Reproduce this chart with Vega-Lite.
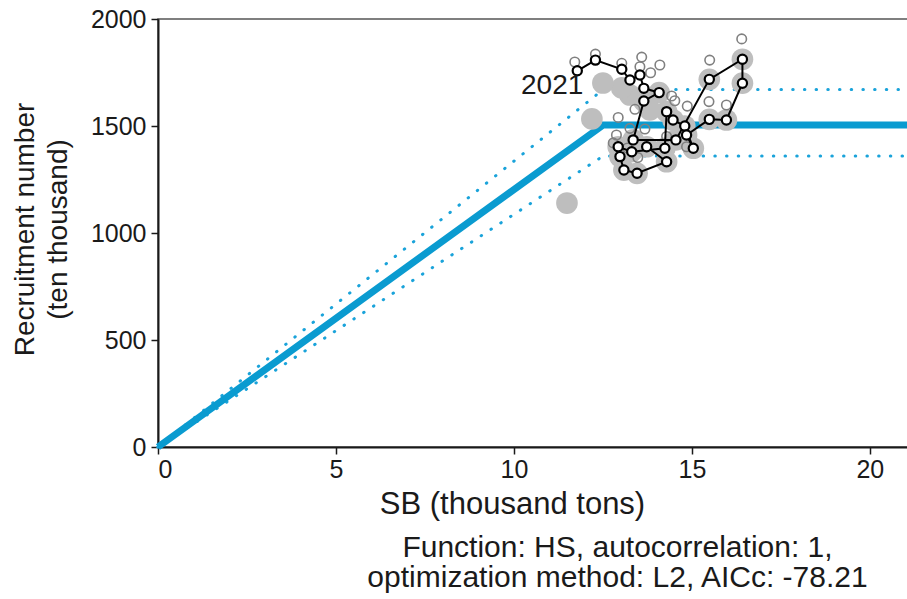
{
  "$schema": "https://vega.github.io/schema/vega-lite/v6.json",
  "autosize": "none",
  "padding": {"left": 158, "top": 19, "right": 0, "bottom": 152},
  "width": 751,
  "height": 428,
  "background": "white",
  "config": {
    "font": "Liberation Sans",
    "view": {"stroke": "#555555", "strokeWidth": 1.5},
    "axis": {
      "grid": false,
      "labelFontSize": 25,
      "labelColor": "#1a1a1a",
      "titleFontSize": 31,
      "titleFontWeight": "normal",
      "titleColor": "#1a1a1a",
      "domainColor": "#1a1a1a",
      "domainWidth": 2,
      "tickColor": "#1a1a1a",
      "tickWidth": 1.5,
      "tickSize": 7
    }
  },
  "title": {
    "text": ["Function: HS, autocorrelation: 1,", "optimization method: L2, AICc: -78.21"],
    "orient": "bottom",
    "anchor": "middle",
    "dx": 84,
    "offset": 14,
    "fontSize": 30,
    "fontWeight": "normal",
    "lineHeight": 30,
    "color": "#1a1a1a"
  },
  "datasets": {
    "hs": [
      {"band": "fit", "SB": 0, "R": 0},
      {"band": "fit", "SB": 12.51, "R": 1505},
      {"band": "fit", "SB": 21.1, "R": 1505},
      {"band": "upper", "SB": 0, "R": 0},
      {"band": "upper", "SB": 12.51, "R": 1671},
      {"band": "upper", "SB": 21.1, "R": 1671},
      {"band": "lower", "SB": 0, "R": 0},
      {"band": "lower", "SB": 12.51, "R": 1360},
      {"band": "lower", "SB": 21.1, "R": 1360}
    ],
    "sr": [
      {"year": 1994, "SB": 13.73, "R": 1403},
      {"year": 1995, "SB": 14.29, "R": 1333},
      {"year": 1996, "SB": 13.46, "R": 1279},
      {"year": 1997, "SB": 13.09, "R": 1294},
      {"year": 1998, "SB": 12.98, "R": 1357},
      {"year": 1999, "SB": 12.93, "R": 1403},
      {"year": 2000, "SB": 13.31, "R": 1380},
      {"year": 2001, "SB": 14.24, "R": 1396},
      {"year": 2002, "SB": 14.29, "R": 1567},
      {"year": 2003, "SB": 14.47, "R": 1528},
      {"year": 2004, "SB": 14.80, "R": 1500},
      {"year": 2005, "SB": 15.04, "R": 1396},
      {"year": 2006, "SB": 14.85, "R": 1458},
      {"year": 2007, "SB": 15.49, "R": 1531},
      {"year": 2008, "SB": 15.97, "R": 1528},
      {"year": 2009, "SB": 16.42, "R": 1700},
      {"year": 2010, "SB": 16.42, "R": 1812},
      {"year": 2011, "SB": 15.49, "R": 1718},
      {"year": 2012, "SB": 14.55, "R": 1435},
      {"year": 2013, "SB": 13.35, "R": 1435},
      {"year": 2014, "SB": 13.65, "R": 1617},
      {"year": 2015, "SB": 14.08, "R": 1656},
      {"year": 2016, "SB": 13.65, "R": 1676},
      {"year": 2017, "SB": 13.54, "R": 1738},
      {"year": 2018, "SB": 13.26, "R": 1715},
      {"year": 2019, "SB": 13.03, "R": 1765},
      {"year": 2020, "SB": 12.29, "R": 1808},
      {"year": 2021, "SB": 11.78, "R": 1758}
    ],
    "prev": [
      {"year": 1994, "SB": 13.73, "R": 1403},
      {"year": 1995, "SB": 14.29, "R": 1333},
      {"year": 1996, "SB": 13.46, "R": 1279},
      {"year": 1997, "SB": 13.09, "R": 1294},
      {"year": 1998, "SB": 12.98, "R": 1357},
      {"year": 1999, "SB": 12.93, "R": 1403},
      {"year": 2000, "SB": 13.31, "R": 1380},
      {"year": 2001, "SB": 14.24, "R": 1396},
      {"year": 2002, "SB": 14.29, "R": 1567},
      {"year": 2003, "SB": 14.47, "R": 1528},
      {"year": 2004, "SB": 14.80, "R": 1500},
      {"year": 2005, "SB": 15.04, "R": 1396},
      {"year": 2006, "SB": 14.85, "R": 1458},
      {"year": 2007, "SB": 15.49, "R": 1531},
      {"year": 2008, "SB": 15.97, "R": 1528},
      {"year": 2009, "SB": 16.42, "R": 1700},
      {"year": 2010, "SB": 16.42, "R": 1812},
      {"year": 2011, "SB": 15.49, "R": 1718},
      {"year": 2012, "SB": 14.55, "R": 1435},
      {"year": 2013, "SB": 13.35, "R": 1435},
      {"year": 2014, "SB": 13.65, "R": 1617},
      {"year": 2015, "SB": 14.08, "R": 1656},
      {"year": 2016, "SB": 13.82, "R": 1575},
      {"year": 2017, "SB": 13.26, "R": 1645},
      {"year": 2018, "SB": 13.03, "R": 1678},
      {"year": 2019, "SB": 12.50, "R": 1701},
      {"year": 2020, "SB": 12.19, "R": 1533},
      {"year": 2021, "SB": 11.49, "R": 1140}
    ],
    "alt": [
      {"SB": 11.71, "R": 1799},
      {"SB": 12.29, "R": 1836},
      {"SB": 13.03, "R": 1793},
      {"SB": 13.59, "R": 1822},
      {"SB": 14.10, "R": 1785},
      {"SB": 13.84, "R": 1749},
      {"SB": 13.54, "R": 1777},
      {"SB": 13.40, "R": 1578},
      {"SB": 14.43, "R": 1640},
      {"SB": 14.52, "R": 1618},
      {"SB": 14.87, "R": 1593},
      {"SB": 15.50, "R": 1808},
      {"SB": 16.40, "R": 1907},
      {"SB": 15.48, "R": 1614},
      {"SB": 15.97, "R": 1598},
      {"SB": 12.93, "R": 1540},
      {"SB": 13.26, "R": 1489},
      {"SB": 12.88, "R": 1458},
      {"SB": 12.79, "R": 1421},
      {"SB": 13.68, "R": 1486},
      {"SB": 13.48, "R": 1353},
      {"SB": 13.19, "R": 1397},
      {"SB": 14.29, "R": 1451},
      {"SB": 14.85, "R": 1403}
    ]
  },
  "encoding": {
    "x": {
      "field": "SB",
      "type": "quantitative",
      "scale": {"domain": [0, 21.1], "nice": false, "zero": true},
      "axis": {
        "title": "SB (thousand tons)",
        "values": [0, 5, 10, 15, 20],
        "format": "d",
        "labelPadding": 3,
        "titleX": 354,
        "titleY": 57,
        "titleAlign": "center",
        "titleBaseline": "middle"
      }
    },
    "y": {
      "field": "R",
      "type": "quantitative",
      "scale": {"domain": [0, 2000], "nice": false},
      "axis": {
        "title": ["Recruitment number", "(ten thousand)"],
        "values": [0, 500, 1000, 1500, 2000],
        "format": "d",
        "labelPadding": 5,
        "titleFontSize": 28,
        "titleX": -133,
        "titleY": 210,
        "titleAngle": -90,
        "titleAlign": "center",
        "titleBaseline": "middle",
        "titleLineHeight": 33
      }
    }
  },
  "layer": [
    {
      "data": {"name": "hs"},
      "transform": [{"filter": "datum.band !== 'fit'"}],
      "mark": {"type": "line", "color": "#1aa3da", "strokeWidth": 3, "strokeCap": "round", "strokeDash": [0.5, 11.2]},
      "encoding": {"detail": {"field": "band"}}
    },
    {
      "data": {"name": "hs"},
      "transform": [{"filter": "datum.band === 'fit'"}],
      "mark": {"type": "line", "color": "#0a9bd0", "strokeWidth": 7}
    },
    {
      "data": {"name": "prev"},
      "mark": {"type": "circle", "size": 470, "color": "#bebebe", "opacity": 1}
    },
    {
      "data": {"name": "alt"},
      "mark": {"type": "point", "shape": "circle", "size": 90, "filled": false, "stroke": "#808080", "strokeWidth": 1.6, "opacity": 1}
    },
    {
      "data": {"name": "sr"},
      "mark": {"type": "line", "color": "black", "strokeWidth": 2},
      "encoding": {"order": {"field": "year"}}
    },
    {
      "data": {"name": "sr"},
      "mark": {"type": "point", "shape": "circle", "size": 85, "filled": true, "fill": "white", "stroke": "black", "strokeWidth": 2.2, "opacity": 1}
    },
    {
      "data": {"name": "sr"},
      "transform": [{"filter": "datum.year === 2021"}],
      "mark": {"type": "text", "fontSize": 28, "align": "right", "baseline": "middle", "dx": 6, "dy": 15, "color": "#1a1a1a"},
      "encoding": {"text": {"field": "year", "type": "nominal"}}
    }
  ]
}
